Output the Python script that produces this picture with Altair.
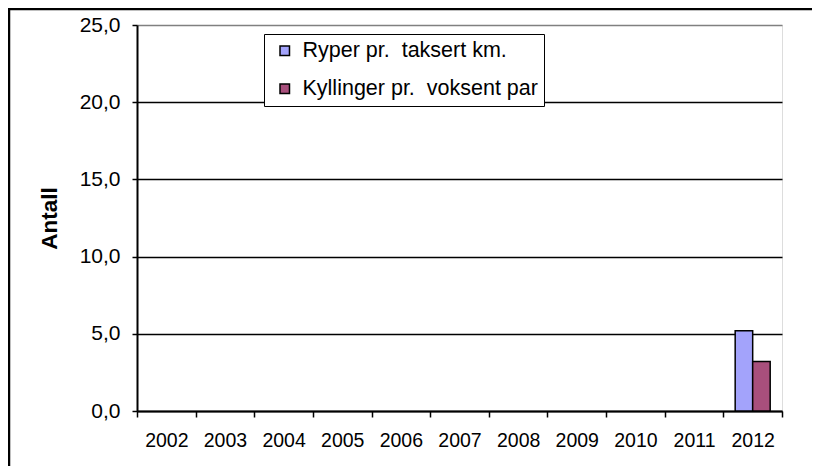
import altair as alt
import pandas as pd

years = ["2002", "2003", "2004", "2005", "2006", "2007", "2008", "2009", "2010", "2011", "2012"]
ryper = [None, None, None, None, None, None, None, None, None, None, 5.2]
kyllinger = [None, None, None, None, None, None, None, None, None, None, 3.2]
series = ["Ryper pr.  taksert km.", "Kyllinger pr.  voksent par"]
colors = ["#a3a3fb", "#a84f7c"]
y_ticks = [0, 5, 10, 15, 20, 25]

rows = []
for i, yr in enumerate(years):
    for name, vals in zip(series, [ryper, kyllinger]):
        if vals[i] is not None:
            rows.append({"year": yr, "series": name, "value": vals[i]})
df = pd.DataFrame(rows)

FONT = "Liberation Sans"
NBSP = "\u00a0"

bars = alt.Chart(df).mark_bar(stroke="black", strokeWidth=1.5).encode(
    x=alt.X(
        "year:O",
        scale=alt.Scale(domain=years, paddingInner=0, paddingOuter=0),
        axis=alt.Axis(
            title=None, labelAngle=0, tickBand="extent", tickSize=6,
            tickColor="black", tickWidth=1.5, domainColor="black", domainWidth=2,
            labelFontSize=19.5, labelFont=FONT, labelColor="black", labelPadding=14,
            grid=False,
        ),
    ),
    xOffset=alt.XOffset("series:N", sort=series,
                        scale=alt.Scale(paddingInner=0, paddingOuter=0.675)),
    y=alt.Y(
        "value:Q",
        scale=alt.Scale(domain=[0, 25], nice=False),
        axis=alt.Axis(
            title="Antall", titleFont=FONT, titleFontSize=22.5, titleFontWeight="bold",
            titleColor="black", titlePadding=18,
            values=y_ticks, tickSize=5, tickColor="black", tickWidth=1.5,
            domainColor="black", domainWidth=2,
            labelFontSize=21, labelFont=FONT, labelColor="black", labelPadding=12,
            labelExpr="replace(format(datum.value, '.1f'), '.', ',')",
            grid=True, gridWidth=1.5,
            gridColor={"condition": {"test": "datum.value == 25", "value": "#808080"}, "value": "black"},
        ),
    ),
    color=alt.Color(
        "series:N",
        sort=series,
        scale=alt.Scale(domain=series, range=colors),
        legend=alt.Legend(
            title=None, orient="none", legendX=127, legendY=9,
            fillColor="white", strokeColor="black", padding=6,
            symbolType="square", symbolSize=90, symbolStrokeColor="black",
            symbolStrokeWidth=1.5, symbolOffset=4, labelOffset=7,
            labelFont=FONT, labelFontSize=21.5, labelColor="black",
            rowPadding=15, labelLimit=400,
            labelExpr="replace(datum.label, '  ', ' " + NBSP + "')",
        ),
    ),
)

frame_data = alt.Data(values=[{"a": 1}])
frame_left = alt.Chart(frame_data).mark_rule(color="black", strokeWidth=2.5).encode(
    x=alt.value(-128), y=alt.value(-17), y2=alt.value(449)
)
frame_top = alt.Chart(frame_data).mark_rule(color="black", strokeWidth=2.5).encode(
    x=alt.value(-129), x2=alt.value(690), y=alt.value(-16)
)

chart = alt.layer(bars, frame_left, frame_top).properties(
    width=645, height=386,
    autosize=alt.AutoSizeParams(type="none"),
    padding={"left": 129, "top": 17, "right": 30, "bottom": 55},
).configure_view(stroke="#808080", strokeWidth=2).configure(background="white")

chart.save("out.html", embed_options={"renderer": "svg", "actions": False})
